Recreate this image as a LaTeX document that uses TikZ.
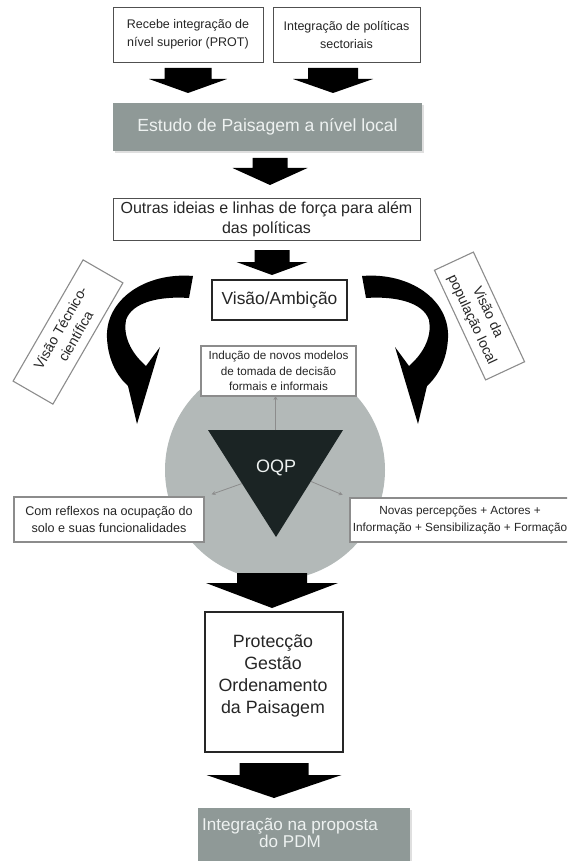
\documentclass[tikz,border=0pt]{standalone}
\usepackage{fontspec}
\setmainfont{Liberation Sans}
\usetikzlibrary{calc,shadows,arrows.meta}

\definecolor{bannergray}{HTML}{8F9997}
\definecolor{discgray}{HTML}{B3B9B8}
\definecolor{tridark}{HTML}{1B2424}
\definecolor{boxline}{HTML}{505050}
\definecolor{softline}{HTML}{8C8C8C}
\definecolor{inkgray}{HTML}{262626}
\definecolor{lighttext}{HTML}{EEF2F1}

% downward block arrow: centre x, top y, shaft half width, head half width, head start y, tip y
\newcommand\blockdown[6]{%
  \fill[black] (#1-#3,#2) -- (#1+#3,#2) -- (#1+#3,#5) -- (#1+#4,#5) -- (#1,#6)
    -- (#1-#4,#5) -- (#1-#3,#5) -- cycle;}

% curved arrow sweeping left and down onto the disc
\newcommand\curvedarrow{%
  \fill[black] (193,276) .. controls (145,272) and (105,300) .. (107,338)
    .. controls (108,360) and (117,376) .. (128,386)
    -- (137,424) -- (160,347) -- (146,366)
    .. controls (130,352) and (123,335) .. (126,320)
    .. controls (132,302) and (160,296) .. (189,298) -- cycle;}

\begin{document}
\begin{tikzpicture}[x=1pt,y=-1pt,
  every node/.style={inner sep=0pt, outer sep=0pt},
  plainbox/.style={draw=boxline, line width=0.9pt, fill=white, text=inkgray, align=center},
  softbox/.style={draw=softline, line width=1.1pt, fill=white, text=inkgray, align=center},
  banner/.style={fill=bannergray, text=lighttext, align=center,
    drop shadow={opacity=0.25, shadow xshift=2pt, shadow yshift=-2pt}},
  thinlink/.style={draw=softline, line width=0.8pt, -{Stealth[length=4pt,width=4pt]}},
]
\useasboundingbox (0,0) rectangle (567,861);
\clip (0,0) rectangle (567,861);

% inputs
\node[plainbox, minimum width=150, minimum height=55, font=\fontsize{12.5}{18}\selectfont]
  (prot) at (188,34.5) {Recebe integração de\\nível superior (PROT)};
\node[plainbox, minimum width=147, minimum height=55, font=\fontsize{12.5}{18}\selectfont]
  (pol) at (346.5,34.5) {Integração de políticas\\sectoriais};

\blockdown{188}{68}{23.5}{39}{79}{93}
\blockdown{333}{68}{25}{40}{79}{93}

\node[banner, minimum width=309, minimum height=48, font=\fontsize{17.6}{20}\selectfont]
  (estudo) at (267.5,127) {Estudo de Paisagem a nível local};

\blockdown{270}{158}{17.5}{37.5}{168}{185}

\node[plainbox, minimum width=307, minimum height=42, font=\fontsize{16}{20}\selectfont]
  (outras) at (266.5,219) {Outras ideias e linhas de força para além\\das políticas};

\blockdown{272}{250}{17.5}{35.5}{262}{275}

\node[draw=inkgray, line width=1.5pt, fill=white, text=inkgray, minimum width=135,
  minimum height=40, font=\fontsize{17.4}{20}\selectfont]
  (visao) at (279.5,300) {Visão/Ambição};

% side visions and their curved arrows
\node[softbox, rotate=60, minimum width=140, minimum height=46, font=\fontsize{14}{17.5}\selectfont]
  (tecn) at (68,332) {Visão Técnico-\\científica};
\node[softbox, rotate=-65, minimum width=121, minimum height=43, font=\fontsize{14}{17.5}\selectfont]
  (popl) at (479.5,316) {Visão da\\população local};
\curvedarrow
\begin{scope}[shift={(555,0)}, xscale=-1]
  \curvedarrow
\end{scope}

% OQP core
\node[circle, fill=discgray, minimum size=220] (disc) at (275,470) {};
\fill[tridark] (208,430) coordinate (tl) -- (343,430) coordinate (tr)
  -- (276,537) coordinate (tb) -- cycle;
\node[text=lighttext, font=\fontsize{18}{20}\selectfont] (oqp) at (276,468) {OQP};

\node[softbox, minimum width=155, minimum height=50, font=\fontsize{11.7}{15.5}\selectfont]
  (ind) at (278.5,371) {Indução de novos modelos\\de tomada de decisão\\formais e informais};
\node[softbox, minimum width=190, minimum height=45, font=\fontsize{12.6}{17}\selectfont]
  (com) at (109,519.5) {Com reflexos na ocupação do\\solo e suas funcionalidades};
\node[softbox, minimum width=220, minimum height=44, font=\fontsize{11.8}{17}\selectfont]
  (nov) at (460,520) {Novas percepções + Actores +\\Informação + Sensibilização + Formação};

\coordinate (ttop) at ($(tl)!0.5!(tr)$);
\draw[thinlink] (ttop) -- (ttop |- ind.south);
\draw[thinlink, shorten >=8pt] ($(tl)!0.5!(tb)$) -- (com.north east);
\draw[thinlink, shorten >=8pt] ($(tr)!0.48!(tb)$) -- (nov.north west);

% outcomes
\blockdown{272}{573}{35}{66}{583}{608}

\node[draw=inkgray, line width=1.2pt, fill=white, minimum width=138, minimum height=140]
  (ppo) at (274,682) {};
\node[text=inkgray, align=center, font=\fontsize{17.8}{22}\selectfont]
  (ppotext) at (273,676) {Protecção\\Gestão\\Ordenamento\\da Paisagem};

\blockdown{274}{763}{34.5}{67.5}{775}{798}

\node[banner, minimum width=212, minimum height=56] (pdmbox) at (304,836) {};
\node[text=lighttext, align=center, font=\fontsize{17.1}{17}\selectfont]
  (pdm) at (290,833) {Integração na proposta\\do PDM};
\end{tikzpicture}
\end{document}
